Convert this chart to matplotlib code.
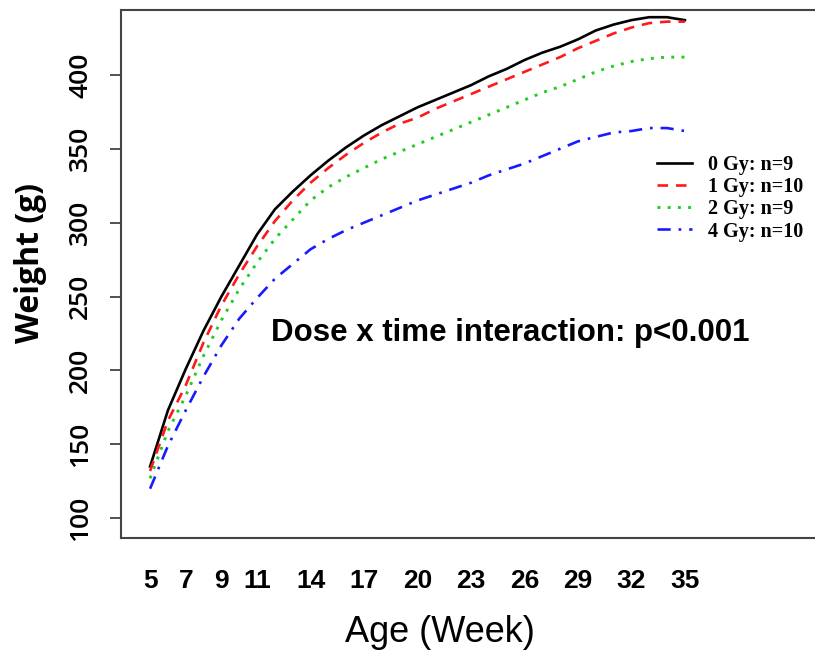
import numpy as np
import matplotlib
matplotlib.use("Agg")
import matplotlib.pyplot as plt

# weeks and mean weights
weeks = [5, 6, 7, 8, 9, 10, 11, 12, 13, 14, 15, 16, 17, 18, 19, 20,
         21, 22, 23, 24, 25, 26, 27, 28, 29, 30, 31, 32, 33, 34, 35]
gy0 = [135, 173, 201, 227, 250, 271, 292, 309, 321, 332, 342, 351, 359, 366, 372, 378,
       383, 388, 393, 399, 404, 410, 415, 419, 424, 430, 434, 437, 439, 439, 437]
gy1 = [132, 166, 190, 219, 244, 265, 284, 301, 315, 327, 337, 346, 354, 361, 367, 371,
       377, 382, 387, 392, 397, 402, 407, 412, 418, 423, 428, 432, 435, 436, 436]
gy2 = [127, 159, 183, 210, 234, 255, 273, 289, 302, 315, 324, 331, 337, 343, 348, 353,
       358, 363, 368, 373, 378, 383, 388, 392, 397, 402, 406, 409, 411, 412, 412]
gy4 = [120, 149, 173, 196, 217, 235, 249, 262, 272, 282, 289, 295, 300, 305, 310, 315,
       319, 323, 327, 332, 336, 340, 345, 350, 355, 358, 361, 362, 364, 364, 362]

labels = ['0 Gy: n=9', '1 Gy: n=10', '2 Gy: n=9', '4 Gy: n=10']
xtick_vals = [5, 7, 9, 11, 14, 17, 20, 23, 26, 29, 32, 35]
ytick_vals = [100, 150, 200, 250, 300, 350, 400]

fig = plt.figure(figsize=(8.15, 6.54), dpi=100)
ax = fig.add_axes([0.1485, 0.177, 0.8515, 0.808])

ax.plot(weeks, gy0, color='black', lw=1.9, ls='-', label=labels[0])
ax.plot(weeks, gy1, color='#ff1a1a', lw=1.9, ls=(0, (4, 3)), label=labels[1])
ax.plot(weeks, gy2, color='#22cc22', lw=2.1, ls=(0, (1, 2.5)), label=labels[2])
ax.plot(weeks, gy4, color='#1a1aff', lw=1.9, ls=(0, (5, 3, 1, 3)), label=labels[3])

ax.set_xlim(3.37, 42.3)
ax.set_ylim(86.5, 444)

ax.set_xticks(xtick_vals)
ax.set_xticklabels([str(v) for v in xtick_vals], fontsize=19, fontweight='bold',
                   family='Liberation Sans')
ax.tick_params(axis='x', length=0, pad=22)

ax.set_yticks(ytick_vals)
ax.set_yticklabels([str(v) for v in ytick_vals], fontsize=19, fontweight='semibold',
                   family='Open Sans', rotation=90, va='center')
ax.tick_params(axis='y', length=8, width=1.3, color='#444444', pad=12)

for side in ['left', 'bottom', 'top']:
    ax.spines[side].set_color('#444444')
    ax.spines[side].set_linewidth(1.5)
ax.spines['right'].set_visible(False)

fig.text(0.540, 0.033, 'Age (Week)', fontsize=26, family='Liberation Sans',
         ha='center', va='center')
fig.text(0.037, 0.598, 'Weight (g)', fontsize=23, fontweight='bold', family='Open Sans',
         rotation=90, ha='center', va='center')

ax.text(0.626, 0.491, 'Dose x time interaction: p<0.001', transform=fig.transFigure,
        fontsize=22.5, fontweight='bold', family='Liberation Sans', ha='center', va='center')

ax.legend(loc='upper left', bbox_to_anchor=(0.784, 0.79), bbox_transform=fig.transFigure,
          frameon=False, prop={'family': 'Liberation Serif', 'weight': 'bold', 'size': 14.5},
          handlelength=1.75, labelspacing=0.1, handletextpad=0.8)

plt.savefig('out.png', dpi=100)
